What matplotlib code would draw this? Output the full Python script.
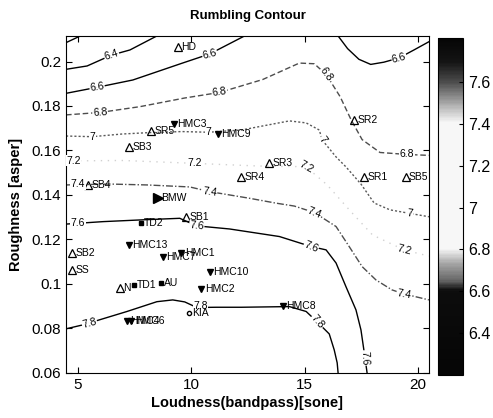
import numpy as np
import matplotlib.pyplot as plt
from matplotlib.colors import LinearSegmentedColormap, Normalize
from matplotlib.cm import ScalarMappable

plt.rcParams['font.family'] = ['Liberation Sans', 'DejaVu Sans']

# contour lines (x = loudness, y = roughness)
c62_x = [4.47, 5.1]
c62_y = [0.2085, 0.2115]
c64_x = [4.47, 5.4, 6.48, 7.29, 8.48]
c64_y = [0.1965, 0.198, 0.2029, 0.2052, 0.2115]
c66a_x = [4.47, 5.84, 7.42, 9.58, 10.81, 12.35]
c66a_y = [0.1857, 0.1884, 0.1917, 0.1992, 0.2034, 0.2115]
c66b_x = [16.48, 16.9, 17.4, 17.92, 18.5, 19.17, 19.83, 20.49]
c66b_y = [0.2115, 0.2058, 0.2010, 0.1987, 0.1997, 0.2016, 0.2052, 0.2089]
c68_x = [4.47, 5.97, 7.73, 9.71, 11.25, 13.15, 14.77, 15.43, 15.96, 16.57, 17.05, 17.54, 18.33, 19.52, 20.49]
c68_y = [0.176, 0.1771, 0.1797, 0.1836, 0.1861, 0.1919, 0.1993, 0.199, 0.1941, 0.1842, 0.1739, 0.1649, 0.1591, 0.1582, 0.1578]
c70_x = [4.47, 5.62, 6.94, 8.08, 9.58, 10.76, 12.21, 13.4, 14.33, 15.07, 15.65, 15.78, 16.39, 16.83, 17.49, 18.07, 18.77, 19.65, 20.49]
c70_y = [0.1665, 0.1662, 0.1674, 0.168, 0.1685, 0.1682, 0.1692, 0.1715, 0.1733, 0.1724, 0.1692, 0.1647, 0.1571, 0.1526, 0.1449, 0.1364, 0.1333, 0.1317, 0.1302]
c72_x = [4.47, 7.0, 10.15, 13.0, 15.06, 16.0, 17.0, 18.0, 19.39, 20.49]
c72_y = [0.1553, 0.1555, 0.1542, 0.153, 0.1527, 0.1445, 0.133, 0.122, 0.1153, 0.1125]
c74_x = [4.47, 6.41, 8.04, 9.93, 10.81, 12.57, 13.75, 14.55, 15.43, 16.39, 16.97, 17.54, 18.15, 18.86, 19.39, 20.49]
c74_y = [0.1445, 0.1449, 0.1445, 0.1436, 0.1415, 0.1385, 0.1363, 0.135, 0.1321, 0.1258, 0.1168, 0.1078, 0.1018, 0.0973, 0.0955, 0.0928]
c76_x = [4.47, 6.1, 7.82, 9.49, 10.24, 11.69, 13.89, 15.29, 15.95, 16.39, 16.83, 17.27, 17.49, 17.67, 17.76]
c76_y = [0.1269, 0.128, 0.1288, 0.1295, 0.1261, 0.1247, 0.1213, 0.1168, 0.1153, 0.1094, 0.0987, 0.0883, 0.0793, 0.0667, 0.06]
c78_x = [4.47, 5.22, 7.16, 8.48, 9.18, 9.71, 10.24, 11.12, 12.21, 14.33, 15.07, 15.56, 16.09, 16.31, 16.44, 16.48]
c78_y = [0.0798, 0.0816, 0.0876, 0.092, 0.0928, 0.0919, 0.0894, 0.0895, 0.0895, 0.0898, 0.0876, 0.0829, 0.0775, 0.0703, 0.0645, 0.06]

# contour labels: text, x, y, rotation
clab_text = ['6.4', '6.6', '6.6', '6.6', '6.8', '6.8', '6.8', '6.8', '7', '7', '7', '7',
             '7.2', '7.2', '7.2', '7.2', '7.4', '7.4', '7.4', '7.4', '7.6', '7.6', '7.6', '7.6',
             '7.8', '7.8', '7.8']
clab_x = [6.48, 5.84, 10.81, 19.17, 5.97, 11.25, 15.96, 19.52, 5.62, 10.76, 15.78, 19.65,
          4.8, 10.15, 15.06, 19.39, 5.0, 10.81, 15.43, 19.39, 5.0, 10.24, 15.29, 17.67,
          5.5, 10.4, 15.56]
clab_y = [0.2029, 0.1884, 0.2034, 0.2016, 0.1771, 0.1861, 0.1941, 0.1582, 0.1662, 0.1682, 0.1647, 0.1317,
          0.1553, 0.1542, 0.1527, 0.1153, 0.1449, 0.1415, 0.1321, 0.0955, 0.1272, 0.1261, 0.1168, 0.0667,
          0.0825, 0.0902, 0.0829]
clab_rot = [18, 8, 15, 15, 4, 8, -55, 0, 0, 0, -55, -8,
            0, 0, -30, -15, 0, -8, -22, -10, 0, -6, -22, -88,
            15, 0, -50]

# measurement points
tri_names = ['HD', 'SR5', 'SB3', 'SR3', 'SR4', 'SR2', 'SR1', 'SB5', 'SB4', 'SB1', 'SB2', 'SS', 'N']
tri_x = [9.4, 8.24, 7.26, 13.45, 12.2, 17.19, 17.63, 19.46, 5.45, 9.78, 4.72, 4.72, 6.85]
tri_y = [0.2065, 0.1688, 0.1617, 0.1543, 0.1482, 0.1737, 0.1482, 0.1482, 0.1445, 0.1302, 0.1138, 0.1063, 0.0981]
hmc_names = ['HMC3', 'HMC9', 'HMC13', 'HMC7', 'HMC1', 'HMC10', 'HMC2', 'HMC8', 'HMC4', 'HMC6']
hmc_x = [9.24, 11.17, 7.24, 8.75, 9.56, 10.81, 10.44, 14.03, 7.14, 7.35]
hmc_y = [0.1719, 0.1673, 0.1175, 0.1123, 0.1138, 0.1055, 0.0976, 0.0901, 0.0831, 0.0831]
sq_names = ['TD2', 'TD1', 'AU']
sq_x = [7.77, 7.46, 8.65]
sq_y = [0.1273, 0.0996, 0.1003]
bmw_x, bmw_y = [8.53], [0.1385]
kia_x, kia_y = [9.9], [0.0868]

cb_ticks = [6.4, 6.6, 6.8, 7.0, 7.2, 7.4, 7.6]
cb_labels = ['6.4', '6.6', '6.8', '7', '7.2', '7.4', '7.6']

fig = plt.figure(figsize=(4.93, 4.18), dpi=100)
ax = fig.add_axes([0.134, 0.108, 0.736, 0.806])

lines = [(c62_x, c62_y, '-', '0.0'), (c64_x, c64_y, '-', '0.0'),
         (c66a_x, c66a_y, '-', '0.0'), (c66b_x, c66b_y, '-', '0.0'),
         (c68_x, c68_y, (0, (4, 2)), '0.3'), (c70_x, c70_y, (0, (1.5, 1.5)), '0.35'),
         (c72_x, c72_y, (0, (1, 4)), '0.82'), (c74_x, c74_y, (0, (5, 1.5, 1, 1.5)), '0.3'),
         (c76_x, c76_y, '-', '0.0'), (c78_x, c78_y, '-', '0.0')]
for xs, ys, ls, col in lines:
    ax.plot(xs, ys, ls=ls, color=col, lw=1.0)

for t, x, y, r in zip(clab_text, clab_x, clab_y, clab_rot):
    ax.text(x, y, t, fontsize=7.5, rotation=r, ha='center', va='center',
            bbox=dict(boxstyle='square,pad=0.05', fc='white', ec='none'))

ax.plot(tri_x, tri_y, '^', mfc='none', mec='black', ms=6, mew=0.9)
ax.plot(hmc_x, hmc_y, 'v', color='black', ms=5)
ax.plot(sq_x, sq_y, 's', color='black', ms=3)
ax.plot(bmw_x, bmw_y, '>', color='black', ms=7)
ax.plot(kia_x, kia_y, 'o', mfc='none', mec='black', ms=3)

for names, xs, ys in [(tri_names, tri_x, tri_y), (hmc_names, hmc_x, hmc_y),
                      (sq_names, sq_x, sq_y), (['BMW'], bmw_x, bmw_y), (['KIA'], kia_x, kia_y)]:
    for n, x, y in zip(names, xs, ys):
        ax.annotate(n, (x, y), xytext=(2.5, 0), textcoords='offset points',
                    fontsize=7.5, va='center', ha='left')

ax.set_xlim(4.47, 20.49)
ax.set_ylim(0.06, 0.2115)
ax.set_xticks([5, 10, 15, 20])
ax.set_yticks(np.arange(0.06, 0.201, 0.02))
ax.set_yticklabels(['0.06', '0.08', '0.1', '0.12', '0.14', '0.16', '0.18', '0.2'])
ax.tick_params(direction='in', top=True, right=True, labelsize=11, length=4)
ax.set_xlabel('Loudness(bandpass)[sone]', fontsize=10.5, fontweight='bold', labelpad=3)
ax.set_ylabel('Roughness [asper]', fontsize=10.5, fontweight='bold', labelpad=6)
ax.set_title('Rumbling Contour', fontsize=9.5, fontweight='bold', pad=12)

# grey version of the printed colour bar
cmap = LinearSegmentedColormap.from_list('printed', [
    (0.0, '0.02'), (0.25, '0.05'), (0.28, '0.4'), (0.33, '0.65'), (0.375, '0.97'),
    (0.75, '0.97'), (0.80, '0.7'), (0.87, '0.3'), (0.93, '0.08'), (1.0, '0.02')])
cax = fig.add_axes([0.888, 0.103, 0.051, 0.806])
sm = ScalarMappable(norm=Normalize(6.2, 7.81), cmap=cmap)
cb = fig.colorbar(sm, cax=cax)
cb.set_ticks(cb_ticks)
cb.set_ticklabels(cb_labels)
cb.ax.tick_params(direction='in', labelsize=11.5, length=3)
cb.outline.set_linewidth(0.8)

fig.savefig('out.png', dpi=100)
